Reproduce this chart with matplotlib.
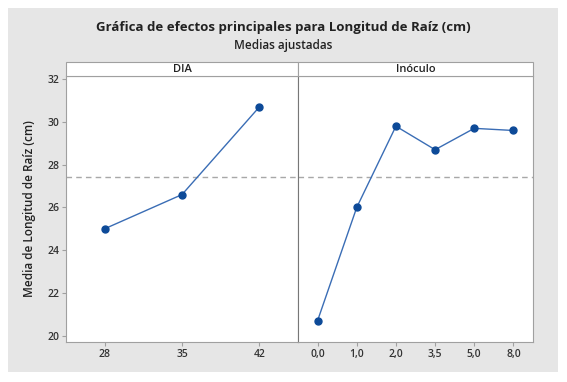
import matplotlib.pyplot as plt
from matplotlib.patches import Rectangle

plt.rcParams['font.family'] = ['Open Sans', 'DejaVu Sans']

# data
dia_labels = ["28", "35", "42"]
dia_means = [25.0, 26.6, 30.7]
inoc_labels = ["0,0", "1,0", "2,0", "3,5", "5,0", "8,0"]
inoc_means = [20.7, 26.0, 29.8, 28.7, 29.7, 29.6]
grand_mean = 27.4
yticks = [20, 22, 24, 26, 28, 30, 32]

fig = plt.figure(figsize=(5.67, 3.82), dpi=100)
fig.patch.set_facecolor("white")
fig.patches.append(Rectangle((8 / 567, 1 - 372 / 382), 550 / 567, 364 / 382,
                             transform=fig.transFigure, facecolor="#e6e6e6",
                             edgecolor="none", zorder=-5))

left, right = 66 / 567, 533 / 567
bottom, top = 1 - 342 / 382, 1 - 76 / 382
strip_h = 14 / 382
split = 298 / 567

ax1 = fig.add_axes([left, bottom, split - left, top - bottom])
ax2 = fig.add_axes([split, bottom, right - split, top - bottom], sharey=ax1)

line_c = "#3a6db5"
mark_c = "#0d4a98"
spine_c = "#a0a0a0"

for ax, labels, vals, title in [(ax1, dia_labels, dia_means, "DIA"),
                                (ax2, inoc_labels, inoc_means, "Inóculo")]:
    x = list(range(len(labels)))
    ax.plot(x, vals, color=line_c, lw=1.0, marker="o", ms=5,
            markerfacecolor=mark_c, markeredgecolor=mark_c, zorder=3)
    ax.axhline(grand_mean, color="#a8a8a8", lw=1.0, ls=(0, (4, 3)), zorder=1)
    ax.set_xticks(x)
    ax.set_xticklabels(labels, fontsize=7.5, fontweight="semibold")
    ax.set_xlim(-0.5, len(labels) - 0.5)
    ax.tick_params(axis="x", length=3, color=spine_c, pad=2, labelcolor="#333333")
    for s in ax.spines.values():
        s.set_color(spine_c)
        s.set_linewidth(0.8)
    # strip header
    pos = ax.get_position()
    fig.patches.append(Rectangle((pos.x0, pos.y1), pos.width, strip_h,
                                 transform=fig.transFigure, facecolor="white",
                                 edgecolor=spine_c, lw=0.8, zorder=2))
    fig.text(pos.x0 + pos.width / 2, pos.y1 + strip_h / 2, title,
             ha="center", va="center", fontsize=8, color="#222222",
             fontweight="semibold")

ax2.spines["left"].set_color("#777777")
ax1.set_ylim(19.7, 32.15)
ax1.set_yticks(yticks)
ax1.tick_params(axis="y", length=3, color=spine_c, pad=2, labelsize=7.5,
                labelcolor="#333333")
for t in ax1.get_yticklabels():
    t.set_fontweight("semibold")
ax2.tick_params(axis="y", left=False, labelleft=False)
ax1.set_ylabel("Media de Longitud de Raíz (cm)", fontsize=8.5, color="#222222",
               labelpad=8, fontweight="semibold")

fig.text(0.5, 1 - 28 / 382, "Gráfica de efectos principales para Longitud de Raíz (cm)",
         ha="center", va="center", fontsize=9.5, fontweight="bold", color="#222222")
fig.text(0.5, 1 - 45 / 382, "Medias ajustadas", ha="center", va="center",
         fontsize=8.5, color="#222222", fontweight="semibold")

fig.savefig("out.png", dpi=100)
